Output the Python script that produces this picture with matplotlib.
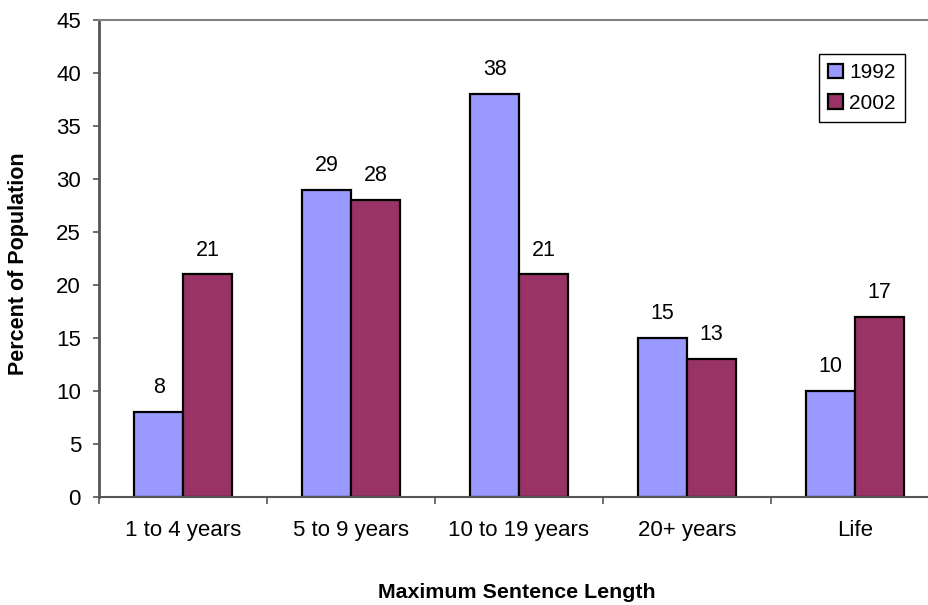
import numpy as np
import matplotlib
matplotlib.use("Agg")
import matplotlib.pyplot as plt

plt.rcParams['font.family'] = ['Liberation Sans', 'DejaVu Sans']

# data
categories = ['1 to 4 years', '5 to 9 years', '10 to 19 years', '20+ years', 'Life']
pct_1992 = [8, 29, 38, 15, 10]
pct_2002 = [21, 28, 21, 13, 17]

W, H = 929, 605
fig = plt.figure(figsize=(W / 100, H / 100), dpi=100)
# plot area runs past the right edge like the original
ax = fig.add_axes([99 / W, (H - 497) / H, 840 / W, 477 / H])

x = np.arange(len(categories))
bw = 0.29
b1 = ax.bar(x - bw / 2, pct_1992, bw, color='#9999FF', edgecolor='black', linewidth=1.6, label='1992')
b2 = ax.bar(x + bw / 2, pct_2002, bw, color='#993366', edgecolor='black', linewidth=1.6, label='2002')

for bars, vals in ((b1, pct_1992), (b2, pct_2002)):
    for r, v in zip(bars, vals):
        ax.annotate(str(v), (r.get_x() + r.get_width() / 2, v), xytext=(0, 17.5),
                    textcoords='offset points', ha='center', va='center', fontsize=15.5)

ax.set_xlim(-0.5, len(categories) - 0.5)
ax.set_ylim(0, 45)
ax.set_yticks(range(0, 46, 5))
ax.set_xticks(x)
ax.set_xticklabels(categories)
ax.set_xticks(np.arange(-0.5, len(categories), 1), minor=True)
ax.tick_params(axis='x', which='major', length=0, pad=16.5, labelsize=16)
ax.tick_params(axis='x', which='minor', length=5, width=1.2, color='#555555', direction='out')
ax.tick_params(axis='y', length=4, width=1.2, color='#555555', pad=9, labelsize=16)

ax.spines['right'].set_visible(False)
ax.spines['top'].set_color('#808080')
ax.spines['top'].set_linewidth(1.5)
ax.spines['left'].set_color('#555555')
ax.spines['left'].set_linewidth(2)
ax.spines['bottom'].set_color('#555555')
ax.spines['bottom'].set_linewidth(1.5)

ax.set_xlabel('Maximum Sentence Length', fontsize=15.4, fontweight='bold', va='center')
ax.xaxis.set_label_coords(0.497, -96 / 477)
ax.set_ylabel('Percent of Population', fontsize=15.5, fontweight='bold', va='center')
ax.yaxis.set_label_coords(-80 / 840, 0.49)

leg = ax.legend(loc='upper left', bbox_to_anchor=(819 / W, 1 - 54 / H),
                bbox_transform=fig.transFigure, borderaxespad=0, fontsize=15,
                fancybox=False, framealpha=1, edgecolor='black',
                handlelength=0.7, handleheight=0.7, handletextpad=0.3,
                labelspacing=0.55, borderpad=0.45)
leg.get_frame().set_linewidth(1)

fig.savefig('out.png', dpi=100)
